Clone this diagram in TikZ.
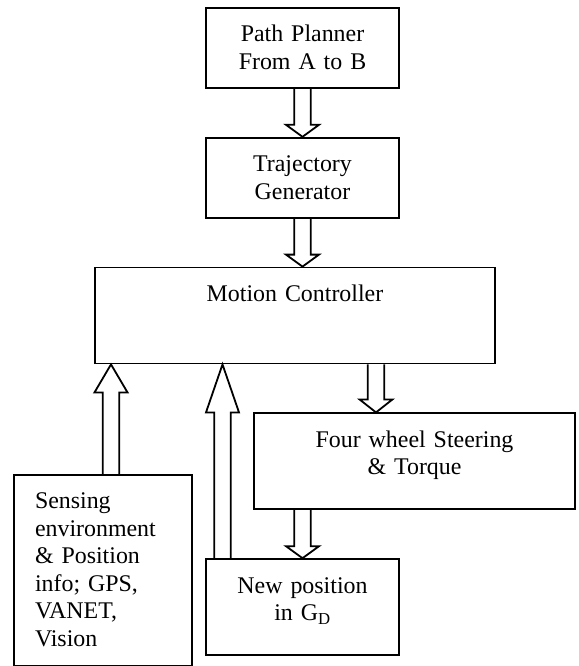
\documentclass[tikz,border=0pt]{standalone}
\usepackage{fontspec}
\setmainfont{Liberation Serif}
\usetikzlibrary{positioning,calc}

% hollow block arrow: [head length]{from}{tip}
\newcommand{\fatarrow}[3][12pt]{%
  \coordinate (hb) at ($(#3)!#1!(#2)$);
  \draw[arr] ($(#2)!8.3pt!90:(#3)$) -- ($(hb)!8.3pt!90:(#3)$) -- ($(hb)!16.5pt!90:(#3)$) -- (#3)
    -- ($(hb)!16.5pt!-90:(#3)$) -- ($(hb)!8.3pt!-90:(#3)$) -- ($(#2)!8.3pt!-90:(#3)$);
}

\begin{document}
\begin{tikzpicture}[
        x=1pt, y=1pt,
        node distance=48pt,
        box/.style={draw, line width=1.8pt, align=center, inner xsep=0pt, inner ysep=0pt, text height=34pt, font=\fontsize{23.9}{27.5}\selectfont},
        arr/.style={line width=1.8pt, line join=miter}
    ]
        \useasboundingbox (0,0) rectangle (578,-666);

        \node[box, text width=193pt, text depth=46pt, anchor=north] (p1) at (302.5,-7) {Path Planner\\From A to B};
        \node[box, text width=193pt, text depth=46pt, below=of p1] (p2) {Trajectory\\Generator};
        \node[box, text width=400pt, text depth=62pt, below=of p2, xshift=-7.5pt] (mc) {Motion Controller};
        \node[box, text width=321pt, text depth=62pt, below=of mc, xshift=119.5pt] (fw) {Four wheel Steering\\\& Torque};
        \node[box, text width=193pt, text depth=62pt, below=of fw.south -| p1] (np) {New position\\in G\textsubscript{D}};
        \node[box, align=left, text width=136pt, inner xsep=21pt, text depth=157pt, anchor=north] (se) at (103,-474) {Sensing\\environment\\\& Position\\info; GPS,\\VANET,\\Vision};

        \coordinate (mcin) at (p2.south |- mc.north);
        \coordinate (mcout) at ([xshift=81pt]mc.south);
        \coordinate (fwin) at (mcout |- fw.north);
        \coordinate (fwout) at (np.north |- fw.south);
        \coordinate (sein) at ([xshift=8pt]se.north);
        \coordinate (mcse) at (sein |- mc.south);
        \coordinate (npin) at ([xshift=-80pt]np.north);
        \coordinate (mcnp) at (npin |- mc.south);

        \fatarrow{p1.south}{p2.north}
        \fatarrow{p2.south}{mcin}
        \fatarrow[13pt]{mcout}{fwin}
        \fatarrow{fwout}{np.north}
        \fatarrow[28pt]{sein}{mcse}
        \fatarrow[48pt]{npin}{mcnp}
    \end{tikzpicture}
\end{document}
